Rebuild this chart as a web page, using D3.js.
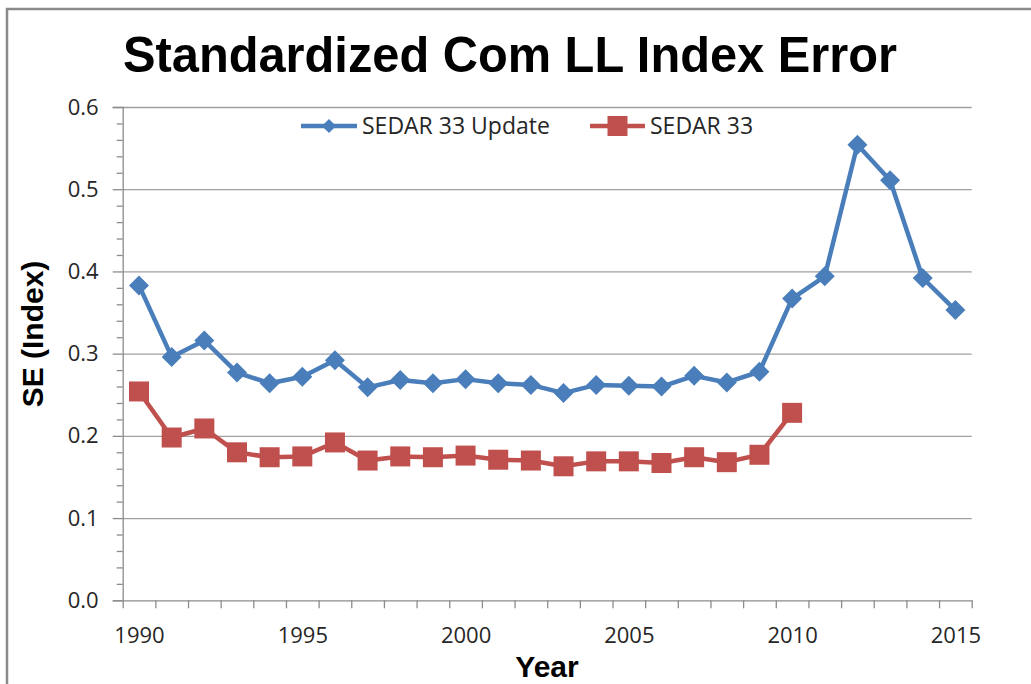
<!DOCTYPE html>
<html>
<head>
<meta charset="utf-8">
<script src="https://cdn.jsdelivr.net/npm/d3@7"></script>
<style>
  html, body { margin: 0; padding: 0; background: #fff; }
  svg { display: block; }
</style>
</head>
<body>
<svg id="chart" width="1031" height="684"></svg>
<script>
// ---- data ----
const years = [1990,1991,1992,1993,1994,1995,1996,1997,1998,1999,2000,2001,2002,2003,2004,2005,2006,2007,2008,2009,2010,2011,2012,2013,2014,2015];
const updateSE = [0.383,0.296,0.316,0.277,0.264,0.272,0.292,0.259,0.268,0.264,0.269,0.264,0.262,0.252,0.262,0.261,0.260,0.273,0.265,0.278,0.367,0.394,0.554,0.511,0.392,0.353];
const sedar33Years = [1990,1991,1992,1993,1994,1995,1996,1997,1998,1999,2000,2001,2002,2003,2004,2005,2006,2007,2008,2009,2010];
const sedar33SE = [0.254,0.198,0.209,0.180,0.174,0.175,0.192,0.170,0.175,0.174,0.176,0.171,0.170,0.163,0.169,0.169,0.167,0.174,0.168,0.177,0.228];
const yTicks = [0.0,0.1,0.2,0.3,0.4,0.5,0.6];
const xLabelYears = [1990,1995,2000,2005,2010,2015];
const seriesNames = ["SEDAR 33 Update","SEDAR 33"];
const titleText = "Standardized Com LL Index Error";
const xTitle = "Year";
const yTitle = "SE (Index)";

// ---- layout ----
const svg = d3.select("#chart");
const L = 122.7, R = 971.7, T = 107, B = 600.3;
const blue = "#4A7EBB", red = "#C0504D";
const axisGray = "#8C8C8C";
const labelFont = "'Open Sans', 'Noto Sans', sans-serif";
const boldFont = "'Liberation Sans', Arial, sans-serif";

// outer frame
svg.append("rect").attr("x", 7).attr("y", 9).attr("width", 1040).attr("height", 700)
  .attr("fill", "none").attr("stroke", "#8A8A8A").attr("stroke-width", 2.5);

const x = d3.scaleLinear().domain([years[0] - 0.5, years[years.length - 1] + 0.5]).range([L, R]);
const y = d3.scaleLinear().domain([0, 0.6]).range([B, T]);

// gridlines
const grid = svg.append("g").attr("transform", `translate(${L},0)`)
  .call(d3.axisLeft(y).tickValues(yTicks.filter(v => v > 0)).tickSize(-(R - L)).tickFormat(""));
grid.select(".domain").remove();
grid.selectAll("line").attr("stroke", "#A0A0A0").attr("stroke-width", 1.3);

// y minor ticks
const minorVals = d3.range(1, 30).map(i => i * 0.02).filter(v => Math.abs(v * 10 - Math.round(v * 10)) > 1e-6);
const yMinor = svg.append("g").attr("transform", `translate(${L},0)`)
  .call(d3.axisLeft(y).tickValues(minorVals).tickSize(6).tickFormat(""));
yMinor.select(".domain").remove();
yMinor.selectAll("line").attr("stroke", axisGray).attr("stroke-width", 1.3);

// y major axis
const yAxis = svg.append("g").attr("transform", `translate(${L},0)`)
  .call(d3.axisLeft(y).tickValues(yTicks).tickSize(10).tickPadding(14).tickFormat(d3.format(".1f")));
yAxis.select(".domain").attr("stroke", axisGray).attr("stroke-width", 1.3);
yAxis.selectAll("line").attr("stroke", axisGray).attr("stroke-width", 1.3);
yAxis.selectAll("text").attr("font-family", labelFont).attr("font-size", 22).attr("fill", "#262626");

// x axis: ticks at category boundaries
const boundaries = d3.range(years[0] - 0.5, years[years.length - 1] + 1, 1);
const xAxis = svg.append("g").attr("transform", `translate(0,${B})`)
  .call(d3.axisBottom(x).tickValues(boundaries).tickSize(8).tickSizeOuter(0).tickFormat(""));
xAxis.select(".domain").attr("stroke", axisGray).attr("stroke-width", 1.3);
xAxis.selectAll("line").attr("stroke", axisGray).attr("stroke-width", 1.3);

// x labels
const xLab = svg.append("g").attr("transform", `translate(0,${B})`)
  .call(d3.axisBottom(x).tickValues(xLabelYears).tickSize(0).tickPadding(27).tickFormat(d3.format("d")));
xLab.select(".domain").remove();
xLab.selectAll("text").attr("font-family", labelFont).attr("font-size", 22).attr("fill", "#262626");

// lines
const line = d3.line().x(d => x(d[0])).y(d => y(d[1]));
const upd = years.map((yr, i) => [yr, updateSE[i]]);
const s33 = sedar33Years.map((yr, i) => [yr, sedar33SE[i]]);

svg.append("path").datum(upd).attr("d", line).attr("fill", "none")
  .attr("stroke", blue).attr("stroke-width", 4.5).attr("stroke-linejoin", "round");
svg.append("path").datum(s33).attr("d", line).attr("fill", "none")
  .attr("stroke", red).attr("stroke-width", 4.5).attr("stroke-linejoin", "round");

const diamond = d3.symbol().type(d3.symbolSquare).size(200);
const square = d3.symbol().type(d3.symbolSquare).size(400);

svg.append("g").selectAll("path").data(upd).join("path")
  .attr("d", diamond)
  .attr("transform", d => `translate(${x(d[0])},${y(d[1])}) rotate(45)`)
  .attr("fill", blue);
svg.append("g").selectAll("path").data(s33).join("path")
  .attr("d", square)
  .attr("transform", d => `translate(${x(d[0])},${y(d[1])})`)
  .attr("fill", red);

// legend
const legY = 126;
const leg = svg.append("g");
leg.append("line").attr("x1", 301).attr("x2", 357).attr("y1", legY).attr("y2", legY)
  .attr("stroke", blue).attr("stroke-width", 4.5);
leg.append("path").attr("d", d3.symbol().type(d3.symbolSquare).size(100))
  .attr("transform", `translate(329,${legY}) rotate(45)`).attr("fill", blue);
leg.append("text").attr("x", 362).attr("y", legY).attr("dy", "0.35em")
  .attr("font-family", labelFont).attr("font-size", 23).attr("fill", "#262626").text(seriesNames[0]);
leg.append("line").attr("x1", 590).attr("x2", 645).attr("y1", legY).attr("y2", legY)
  .attr("stroke", red).attr("stroke-width", 4.5);
leg.append("path").attr("d", d3.symbol().type(d3.symbolSquare).size(400))
  .attr("transform", `translate(617.5,${legY})`).attr("fill", red);
leg.append("text").attr("x", 650).attr("y", legY).attr("dy", "0.35em")
  .attr("font-family", labelFont).attr("font-size", 23).attr("fill", "#262626").text(seriesNames[1]);

// title
svg.append("text").attr("x", 510).attr("y", 72).attr("text-anchor", "middle")
  .attr("font-family", boldFont).attr("font-weight", "bold").attr("font-size", 50)
  .attr("textLength", 774).attr("lengthAdjust", "spacingAndGlyphs")
  .attr("fill", "#000").text(titleText);

// axis titles
svg.append("text").attr("x", 547).attr("y", 677).attr("text-anchor", "middle")
  .attr("font-family", boldFont).attr("font-weight", "bold").attr("font-size", 30)
  .attr("fill", "#000").text(xTitle);
svg.append("text").attr("transform", "translate(43,334) rotate(-90)").attr("text-anchor", "middle")
  .attr("font-family", boldFont).attr("font-weight", "bold").attr("font-size", 30)
  .attr("fill", "#000").text(yTitle);
</script>
</body>
</html>
